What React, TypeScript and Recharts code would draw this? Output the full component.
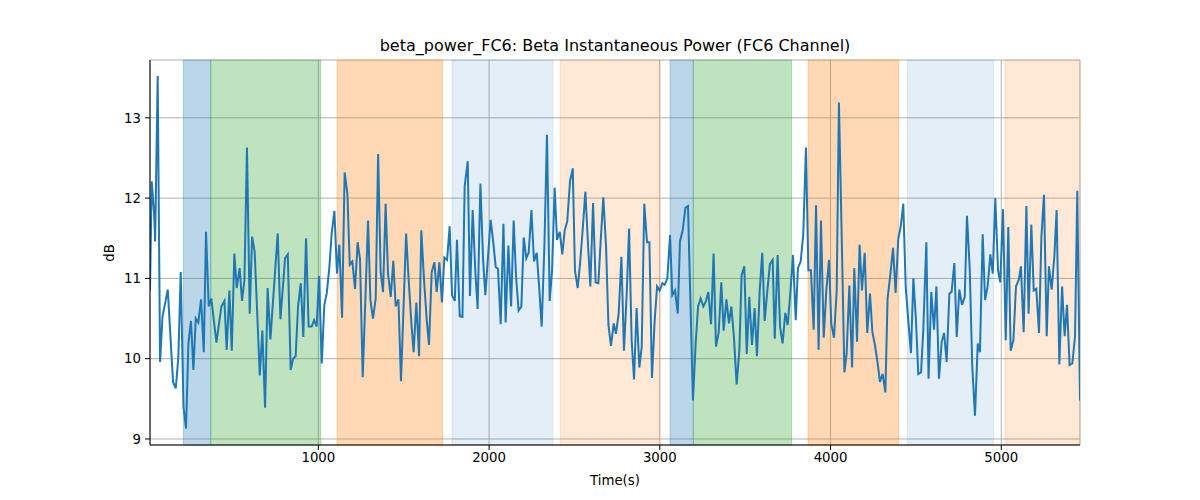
import { LineChart, Line, XAxis, YAxis, CartesianGrid, ReferenceArea } from "recharts";

// time stamps (s) of each sample
const timeSec = [
  14, 24, 38, 44, 59, 73, 87, 118, 149, 165, 180, 194, 210, 225, 239, 254, 268, 282, 297, 313,
  329, 342, 358, 373, 403, 432, 450, 463, 479, 493, 508, 522, 539, 553, 567, 582, 598, 612, 627, 657,
  672, 688, 703, 719, 762, 778, 805, 821, 838, 852, 867, 881, 897, 912, 928,
  943, 961, 975, 990, 1004, 1020, 1035, 1049, 1065, 1078, 1094, 1109, 1123, 1139, 1154, 1170, 1184, 1199, 1215, 1230,
  1244, 1260, 1291, 1305, 1320, 1336, 1350, 1365, 1379, 1394, 1408, 1424, 1439, 1453, 1469, 1484, 1514, 1529, 1545, 1558,
  1574, 1590, 1603, 1619, 1635, 1648, 1664, 1680, 1693, 1709, 1724, 1738, 1754, 1769, 1783, 1799, 1812, 1828, 1844, 1857,
  1875, 1888, 1904, 1920, 1933, 1949, 1965, 1978, 2009, 2023, 2039, 2052, 2068, 2084, 2097, 2113, 2129, 2144, 2158, 2173,
  2189, 2203, 2218, 2232, 2248, 2263, 2279, 2293, 2308, 2324, 2339, 2355, 2369, 2384, 2398, 2414, 2429, 2443, 2458, 2474,
  2490, 2503, 2519, 2533, 2548, 2564, 2580, 2593, 2609, 2624, 2640, 2654, 2669, 2685, 2699, 2714, 2730, 2743, 2759,
  2775, 2790, 2806, 2820, 2835, 2849, 2864, 2880, 2894, 2909, 2925, 2939, 2954, 2970, 2984, 2999, 3015, 3028, 3044, 3060,
  3073, 3089, 3105, 3118, 3134, 3150, 3165, 3179, 3194, 3210, 3224, 3239, 3255, 3269, 3284, 3300, 3315, 3329, 3345, 3360,
  3374, 3390, 3405, 3419, 3434, 3450, 3466, 3479, 3495, 3509, 3524, 3540, 3555, 3569, 3585, 3600, 3614, 3630, 3645, 3661,
  3673,
  3690, 3704, 3719, 3735, 3749, 3764, 3780, 3796, 3809, 3825, 3840, 3856, 3870, 3885, 3901, 3915, 3930, 3944, 3960, 3975,
  3991, 4004, 4020, 4036, 4049, 4065, 4081, 4094, 4110, 4126, 4139, 4155, 4170, 4184, 4200, 4215, 4231, 4245, 4260, 4276,
  4289, 4305, 4321, 4334, 4350, 4366, 4381, 4397, 4410, 4426, 4440, 4455, 4471, 4485, 4500, 4514, 4530, 4543, 4561, 4574,
  4590, 4606, 4620, 4635, 4651, 4665, 4680, 4696, 4709, 4725, 4739, 4754, 4770, 4786, 4799, 4815, 4830, 4846, 4862, 4875,
  4891, 4905, 4920, 4936, 4950, 4965, 4981, 4994, 5010, 5026, 5041, 5055, 5071, 5086, 5102, 5115, 5131, 5147, 5160, 5176,
  5190, 5205, 5221, 5235, 5250, 5266, 5279, 5295, 5311, 5324, 5340, 5356, 5371, 5385, 5400, 5416, 5432, 5445, 5461,
];

// beta power (dB) at each time stamp
const betaDb = [
  10.85, 12.21, 11.81, 11.46, 13.52, 9.96, 10.52, 10.86, 9.71, 9.63, 10.02, 11.08, 9.40, 9.13, 10.19, 10.47, 9.86, 10.50, 10.45, 10.74,
  10.08, 11.58, 10.65, 10.75, 10.20, 10.65, 10.72, 10.11, 10.85, 10.10, 11.31, 10.88, 11.13, 10.72, 10.98, 12.63, 10.56, 11.52, 11.33, 9.79,
  10.35, 9.39, 10.88, 10.24, 11.56, 10.49, 11.25, 11.30, 9.86, 10.00, 10.03, 10.65, 10.94, 10.27, 11.50,
  10.40, 10.40, 10.48, 10.40, 11.03, 9.94, 10.67, 10.81, 11.15, 11.56, 11.84, 11.06, 11.42, 10.51, 12.32, 12.06, 11.17, 11.21, 10.87, 11.45,
  11.24, 9.77, 11.72, 10.73, 10.50, 10.75, 12.55, 11.08, 10.83, 11.93, 11.06, 10.77, 11.22, 10.65, 10.74, 9.72, 11.56, 10.98, 10.44, 10.08,
  10.70, 10.03, 11.60, 10.98, 10.48, 10.17, 11.08, 11.20, 10.83, 11.20, 10.70, 11.26, 11.23, 11.65, 10.79, 10.72, 11.48, 10.53, 10.52, 12.15,
  12.46, 10.78, 11.85, 11.06, 10.62, 12.18, 11.23, 10.79, 11.73, 11.48, 11.14, 11.12, 10.43, 11.68, 10.45, 11.41, 10.65, 11.72, 11.02, 10.60,
  10.65, 11.51, 11.25, 11.32, 11.85, 11.21, 11.32, 10.90, 10.40, 11.40, 12.79, 10.72, 11.10, 12.13, 11.48, 11.58, 11.30, 11.60, 11.71, 12.21,
  12.37, 11.10, 10.88, 11.19, 11.60, 12.08, 11.40, 10.90, 11.94, 10.95, 10.94, 11.48, 12.01, 11.40, 10.42, 10.16, 10.44, 10.31, 10.56,
  11.27, 10.10, 10.81, 11.62, 10.23, 9.74, 10.63, 9.89, 10.15, 11.93, 11.45, 11.45, 9.76, 10.48, 10.90, 10.85, 10.94, 10.92, 11.00, 11.54,
  10.79, 10.85, 10.56, 11.46, 11.60, 11.88, 11.90, 10.73, 9.48, 10.19, 10.65, 10.75, 10.65, 10.71, 10.83, 10.43, 11.31, 10.15, 10.33, 10.95,
  10.35, 10.74, 10.44, 10.65, 10.27, 9.68, 10.11, 11.04, 11.15, 10.06, 10.77, 10.17, 10.63, 10.03, 10.85, 11.32, 10.47, 10.85, 11.18, 11.23,
  10.25,
  11.29, 10.40, 10.19, 10.57, 10.42, 10.81, 11.29, 10.48, 11.13, 11.21, 11.54, 12.63, 11.10, 11.10, 10.36, 11.91, 10.11, 11.72, 10.26, 10.85,
  11.23, 10.44, 10.26, 10.85, 13.19, 11.56, 9.83, 10.06, 10.91, 9.89, 11.13, 10.21, 11.42, 10.85, 11.32, 10.32, 10.81, 10.33, 10.17, 9.94,
  9.71, 9.81, 9.58, 10.75, 11.04, 11.38, 10.82, 11.50, 11.63, 11.93, 10.90, 10.48, 10.07, 11.00, 10.48, 9.81, 9.83, 10.35, 11.45, 9.75,
  10.83, 10.36, 10.90, 9.75, 10.21, 10.32, 9.96, 10.81, 10.83, 11.19, 10.27, 10.86, 10.67, 10.77, 11.78, 11.13, 9.90, 9.29, 10.19, 10.08,
  11.55, 10.73, 10.90, 11.30, 11.06, 12.00, 11.10, 10.95, 11.86, 10.23, 11.64, 10.10, 10.23, 10.90, 10.98, 11.15, 10.33, 11.90, 10.56, 11.67,
  10.85, 10.87, 10.32, 11.52, 12.04, 10.28, 11.15, 10.86, 11.28, 11.85, 9.93, 10.90, 10.28, 10.67, 9.92, 9.94, 10.28, 12.09, 9.48,
];

// shaded condition intervals (s)
const bandStart = [210, 370, 1110, 1783, 2416, 3060, 3196, 3868, 4450, 5022];
const bandEnd = [370, 1014, 1728, 2373, 3001, 3196, 3772, 4399, 4955, 5461];
const bandKind = ["blue", "green", "orange", "paleBlue", "paleOrange", "blue", "green", "orange", "paleBlue", "paleOrange"];

const xTicks = [1000, 2000, 3000, 4000, 5000];
const yTicks = [9, 10, 11, 12, 13];

const bandStyle: Record<string, { color: string; opacity: number }> = {
  blue: { color: "#1f77b4", opacity: 0.3 },
  green: { color: "#2ca02c", opacity: 0.3 },
  orange: { color: "#ff7f0e", opacity: 0.3 },
  paleBlue: { color: "#1f77b4", opacity: 0.12 },
  paleOrange: { color: "#ff7f0e", opacity: 0.17 },
};

const rows = timeSec.map((t, i) => ({ t, v: betaDb[i] }));

const X_DOMAIN: [number, number] = [14, 5461];
const Y_DOMAIN: [number, number] = [8.925, 13.72];
const FONT = '"DejaVu Sans", sans-serif';
const tickStyle = { fill: "#000", fontSize: 13.3, fontFamily: FONT };

export default function App() {
  return (
    <div style={{ position: "absolute", left: 0, top: 0, width: 1200, height: 500, background: "#fff", fontFamily: FONT }}>
      {/* title */}
      <div style={{ position: "absolute", left: 150, width: 930, top: 36, lineHeight: "20px", textAlign: "center", fontSize: 16, color: "#000" }}>
        beta_power_FC6: Beta Instantaneous Power (FC6 Channel)
      </div>

      <LineChart width={1200} height={500} data={rows} margin={{ top: 60, right: 120, bottom: 35, left: 110 }}>
        <CartesianGrid stroke="#b0b0b0" strokeWidth={1} />
        {bandStart.map((s, i) => (
          <ReferenceArea
            key={i}
            x1={s}
            x2={bandEnd[i]}
            fill={bandStyle[bandKind[i]].color}
            fillOpacity={bandStyle[bandKind[i]].opacity}
            stroke={bandStyle[bandKind[i]].color}
            strokeOpacity={bandStyle[bandKind[i]].opacity}
          />
        ))}
        <XAxis
          dataKey="t"
          type="number"
          domain={X_DOMAIN}
          allowDataOverflow
          ticks={xTicks}
          height={20}
          tickSize={5}
          tickMargin={3}
          tick={tickStyle}
          stroke="#000"
        />
        <XAxis xAxisId="top" orientation="top" type="number" domain={X_DOMAIN} allowDataOverflow height={0} tick={false} tickLine={false} stroke="#000" />
        <YAxis
          type="number"
          domain={Y_DOMAIN}
          allowDataOverflow
          ticks={yTicks}
          width={40}
          tickSize={5}
          tickMargin={4}
          tick={tickStyle}
          stroke="#000"
        />
        <YAxis yAxisId="right" orientation="right" type="number" domain={Y_DOMAIN} allowDataOverflow width={0} tick={false} tickLine={false} stroke="#000" />
        <Line type="linear" dataKey="v" stroke="#1f77b4" strokeWidth={2} dot={false} isAnimationActive={false} />
      </LineChart>

      {/* axis labels */}
      <div style={{ position: "absolute", left: 150, width: 930, top: 472, lineHeight: "18px", textAlign: "center", fontSize: 13.3, color: "#000" }}>
        Time(s)
      </div>
      <div
        style={{
          position: "absolute",
          left: 110,
          top: 253,
          fontSize: 13.3,
          lineHeight: "18px",
          color: "#000",
          transform: "translate(-50%, -50%) rotate(-90deg)",
        }}
      >
        dB
      </div>
    </div>
  );
}
